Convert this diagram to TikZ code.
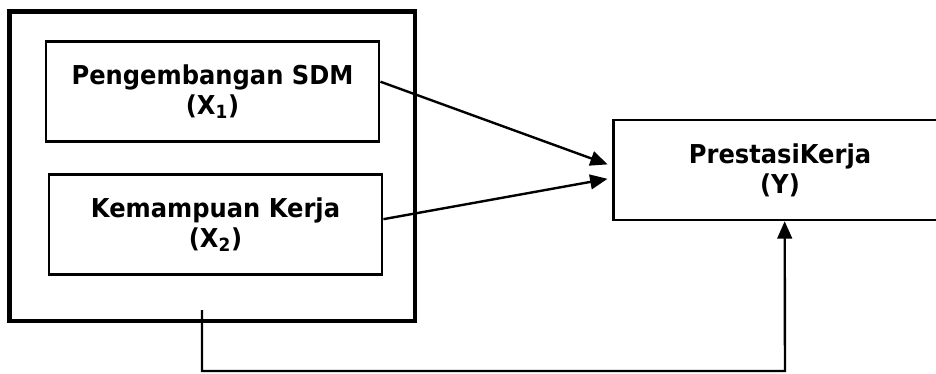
\documentclass[tikz,border=0pt]{standalone}
\usepackage{fontspec}
\setmainfont{DejaVu Sans}[FakeStretch=0.93]
\usepackage{xcolor}
\usetikzlibrary{arrows.meta}

\begin{document}
\begin{tikzpicture}[x=0.75pt, y=-0.75pt,
    varbox/.style={draw, rectangle, line width=1.9pt, minimum width=250pt, minimum height=75pt, align=center, font=\fontsize{19.5}{22.5}\selectfont\bfseries},
    arr/.style={-{Triangle[length=13pt, width=11pt]}, line width=1.8pt}]
            \path[use as bounding box, clip] (0,0) rectangle (936,374);

            \node[draw, rectangle, line width=3.6pt, minimum width=304pt, minimum height=232pt] (group) at (212.25,166.25) {};
            \node[varbox] (x1) at (212.5,91.7) {Pengembangan SDM\\(X\textsubscript{1})};
            \node[varbox] (x2) at (215.5,224.5) {Kemampuan Kerja\\(X\textsubscript{2})};
            \node[varbox] (y) at (780,170) {PrestasiKerja\\(Y)};

            \draw[arr, shorten >=3.5pt] ([yshift=7.5pt]x1.east) -- ([yshift=3pt]y.west);
            \draw[arr, shorten >=3.5pt] ([yshift=4pt]x2.east) -- ([yshift=-6pt]y.west);

            \coordinate (gout) at (202,310);
            \coordinate (bend) at (785,371);
            \draw[arr] (gout) |- (bend) -- ([xshift=3.5pt]y.south);
        \end{tikzpicture}
\end{document}
